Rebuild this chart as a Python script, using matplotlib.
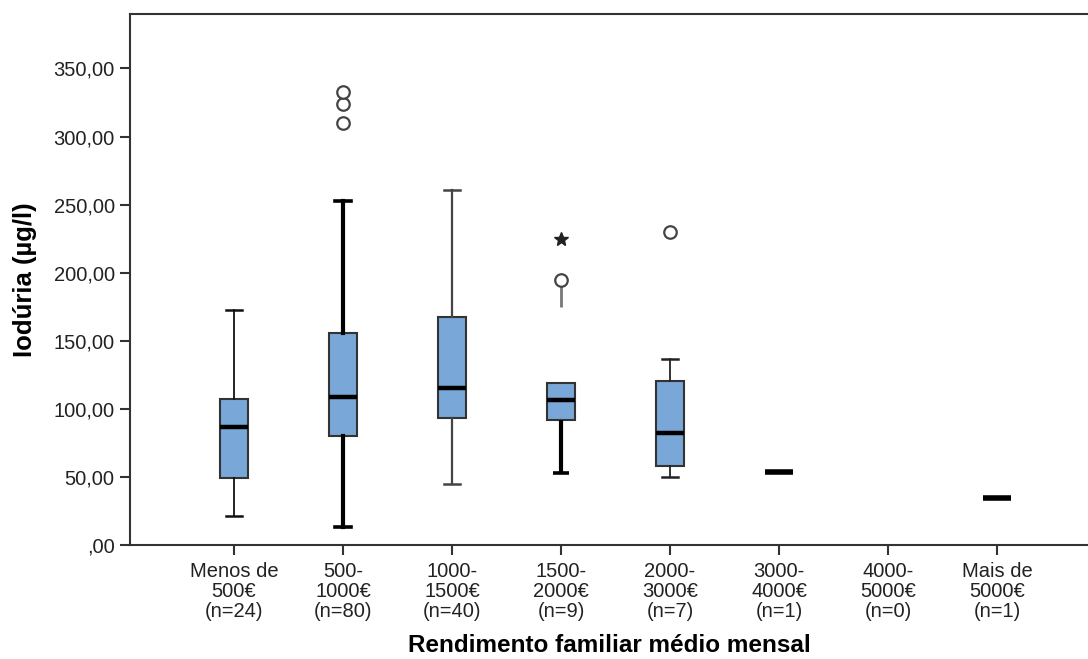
import matplotlib
matplotlib.use("Agg")
import matplotlib.pyplot as plt

plt.rcParams['font.family'] = ['Liberation Sans', 'DejaVu Sans']

categories = ["Menos de\n500€\n(n=24)", "500-\n1000€\n(n=80)", "1000-\n1500€\n(n=40)",
              "1500-\n2000€\n(n=9)", "2000-\n3000€\n(n=7)", "3000-\n4000€\n(n=1)",
              "4000-\n5000€\n(n=0)", "Mais de\n5000€\n(n=1)"]

# box statistics for groups with a box (index into categories)
box_idx = [0, 1, 2, 3, 4]
whislo = [21.3, 13.0, 44.6, 52.6, 49.7]
q1 = [49.0, 80.3, 93.0, 91.8, 58.3]
med = [86.7, 109.0, 115.1, 106.5, 82.5]
q3 = [107.2, 155.5, 167.2, 118.8, 120.4]
whishi = [172.6, 252.7, 260.7, 118.8, 136.4]
outliers_circle = [[], [309.7, 324.0, 333.0], [], [194.6], [229.6]]
outliers_star = [[], [], [], [224.5], []]

# single-value groups
single_idx = [5, 7]
single_val = [53.4, 34.3]

# short stem below the circle outlier in group 1500-2000
stem_idx = [3]
stem_lo = [175.0]
stem_hi = [191.0]

yticks = [0, 50, 100, 150, 200, 250, 300, 350]
ytick_labels = [",00", "50,00", "100,00", "150,00", "200,00", "250,00", "300,00", "350,00"]

fill = "#79a7d7"
edge = "#333333"

fig = plt.figure(figsize=(10.88, 6.59), dpi=100)
ax = fig.add_axes([130/1088, (659-545)/659, (1088-130)/1088, (545-14)/659])

stats = []
for i in range(len(box_idx)):
    stats.append(dict(whislo=whislo[i], q1=q1[i], med=med[i], q3=q3[i],
                      whishi=whishi[i], fliers=[]))

whisker_lw = [1.3, 3.0, 1.6, 1.6, 1.3]
whisker_col = ["#111111", "#000000", "#444444", "#444444", "#222222"]
cap_lw = [1.8, 2.6, 1.8, 0.0, 1.8]
for i, st in enumerate(stats):
    ax.bxp([st], positions=[box_idx[i]], widths=0.257, capwidths=0.14,
           patch_artist=True, showfliers=False,
           boxprops=dict(facecolor=fill, edgecolor=edge, linewidth=1.5),
           medianprops=dict(color="black", linewidth=3.2),
           whiskerprops=dict(color=whisker_col[i], linewidth=whisker_lw[i]),
           capprops=dict(color=whisker_col[i], linewidth=cap_lw[i]),
           manage_ticks=False)
# lower whisker of 1500-2000 is thick, with its cap
ax.vlines([box_idx[3]], [whislo[3]], [q1[3]], color="black", linewidth=3.0, zorder=3)
ax.hlines([whislo[3]], [box_idx[3] - 0.07], [box_idx[3] + 0.07], color="black",
          linewidth=2.6, zorder=3)

for i, vals in enumerate(outliers_circle):
    if vals:
        ax.plot([box_idx[i]]*len(vals), vals, linestyle="none", marker="o",
                markersize=9.0, markerfacecolor="white", markeredgecolor="#444444",
                markeredgewidth=1.6, zorder=5)
for i, vals in enumerate(outliers_star):
    if vals:
        ax.plot([box_idx[i]]*len(vals), vals, linestyle="none", marker="*",
                markersize=10.5, color="#222222", zorder=5)

ax.vlines(stem_idx, stem_lo, stem_hi, color="#777777", linewidth=2.0, zorder=4)

ax.hlines(single_val, [p - 0.1285 for p in single_idx], [p + 0.1285 for p in single_idx],
          color="black", linewidth=4.0, zorder=4)

ax.set_xlim(-0.954, 7.835)
ax.set_ylim(0, 390)
ax.set_yticks(yticks)
ax.set_yticklabels(ytick_labels)
ax.set_xticks(range(len(categories)))
ax.set_xticklabels(categories, linespacing=1.08)

ax.tick_params(axis="both", direction="out", length=7, width=1.5, colors="#333333",
               labelsize=14.5, labelcolor="#222222")
ax.tick_params(axis="x", pad=5)
ax.tick_params(axis="y", pad=4)

for s in ["left", "bottom", "top"]:
    ax.spines[s].set_color("#333333")
    ax.spines[s].set_linewidth(1.5)
ax.spines["right"].set_visible(False)

ax.set_xlabel("Rendimento familiar médio mensal", fontsize=17.5, fontweight="bold",
              labelpad=9)
ax.set_ylabel("Iodúria (µg/l)", fontsize=18.5, fontweight="bold", labelpad=12)

fig.savefig("out.png", dpi=100)
